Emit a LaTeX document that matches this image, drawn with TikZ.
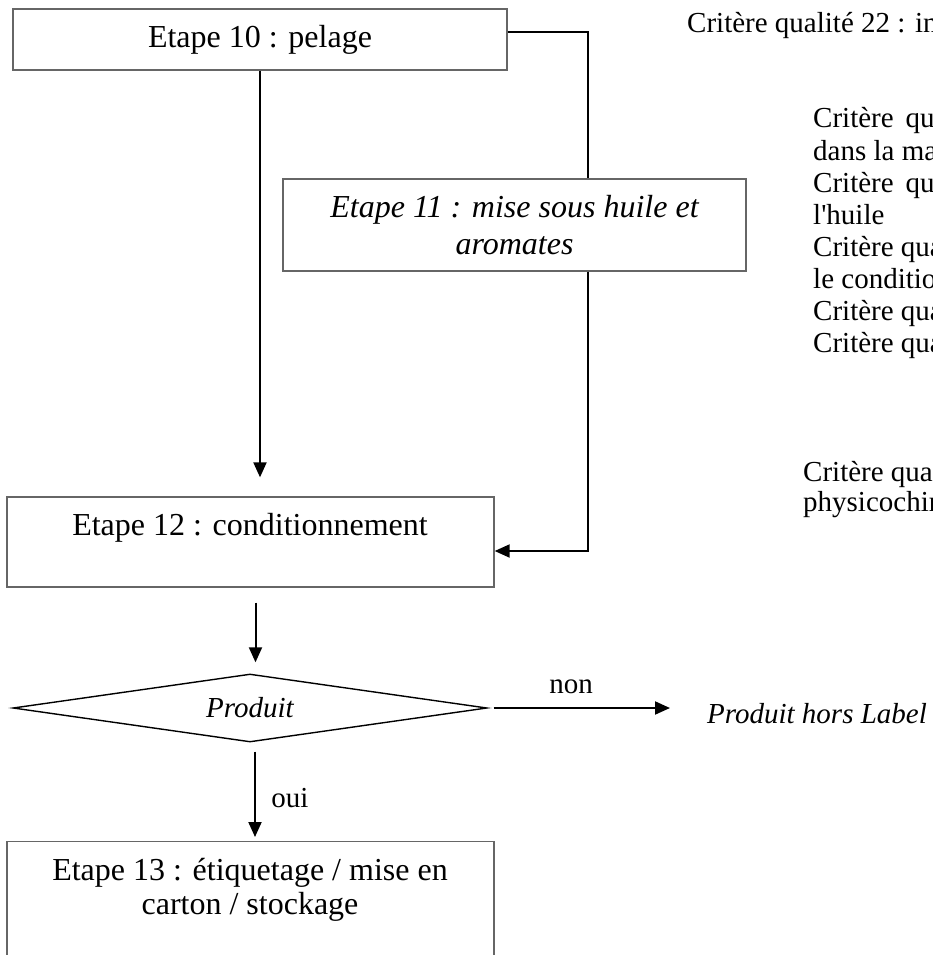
\documentclass[tikz,border=0pt]{standalone}
\usepackage{fontspec}
\setmainfont{Liberation Serif}[Ligatures=TeXOff]
\usetikzlibrary{arrows.meta,shapes.geometric}
\begin{document}
\begin{tikzpicture}[x=1pt,y=-1pt,
  box/.style={draw=black!60, line width=1.3pt, rectangle, inner sep=0pt},
  conn/.style={line width=2pt, draw=black},
  arr/.style={conn, -{Triangle[length=15pt,width=13pt]}},
  bigtxt/.style={font=\fontsize{32}{37}\selectfont},
  smalltxt/.style={font=\fontsize{29}{32}\selectfont, inner sep=0pt},
]
\clip (0,0) rectangle (933,955);
\fill[white] (0,0) rectangle (933,955);

% boxes
\node[box, bigtxt, minimum width=494pt, minimum height=61pt] (b10) at (260,39.5) {Etape 10 : pelage};
\node[box, font=\fontsize{32}{37}\selectfont\itshape, align=center, minimum width=463pt, minimum height=92pt] (b11) at (514.5,225) {Etape 11 : mise sous huile et\\aromates};
\node[box, minimum width=487pt, minimum height=90pt] (b12) at (250.5,542) {};
\node[bigtxt, inner sep=0pt] (t12) at (250,528) {Etape 12 : conditionnement};
\node[draw=black, diamond, line width=1.4pt, aspect=7, minimum width=474pt, minimum height=68pt, inner sep=0pt, font=\fontsize{29}{32}\selectfont\itshape] (dia) at (250,708) {Produit};
\node[box, minimum width=487pt, minimum height=140pt, anchor=north] (b13) at (250.5,841) {};
\node[font=\fontsize{32}{34}\selectfont, align=center, inner sep=0pt] (t13) at (250,890) {Etape 13 : étiquetage / mise en\\carton / stockage};
\node[smalltxt, font=\fontsize{29}{32}\selectfont\itshape, anchor=west] (lab) at (707,714) {Produit hors Label};

% labels
\node[smalltxt] (non) at (571,687) {non};
\node[smalltxt] (oui) at (290,798) {oui};

% right-hand texts
\node[smalltxt, anchor=base west] (q22) at (687,33) {Critère qualité 22 : in};
\foreach \t [count=\i] in {{Critère\hspace{12pt}qu},{dans la ma},{Critère\hspace{12pt}qu},{l'huile},{Critère qua},{le conditio},{Critère qua},{Critère qua}}
  \node[smalltxt, anchor=base west] (g\i) at (813,{128+(\i-1)*32}) {\t};
\node[smalltxt, anchor=base west] (h1) at (803,481) {Critère qua};
\node[smalltxt, anchor=base west] (h2) at (803,511) {physicochin};

% connectors
\coordinate (c1) at (588,32);
\coordinate (c2) at (588,551);
\draw[conn] (b10.east |- c1) -- (c1) -- (c1 |- b11.north);
\draw[arr] (c1 |- b11.south) -- (c2) -- (b12.east |- c2);
\draw[arr, shorten >=19pt] (b10.south) -- (b10.south |- b12.north);
\draw[arr, shorten <=15pt, shorten >=11pt] ([xshift=5pt]b12.south) -- ([xshift=5pt]b12.south |- dia.north);
\draw[arr, shorten <=9pt, shorten >=4pt] ([xshift=5pt]dia.south) -- ([xshift=5pt]dia.south |- b13.north);
\draw[arr, shorten <=6pt, shorten >=37pt] (dia.east) -- (dia.east -| lab.west);
\end{tikzpicture}
\end{document}
